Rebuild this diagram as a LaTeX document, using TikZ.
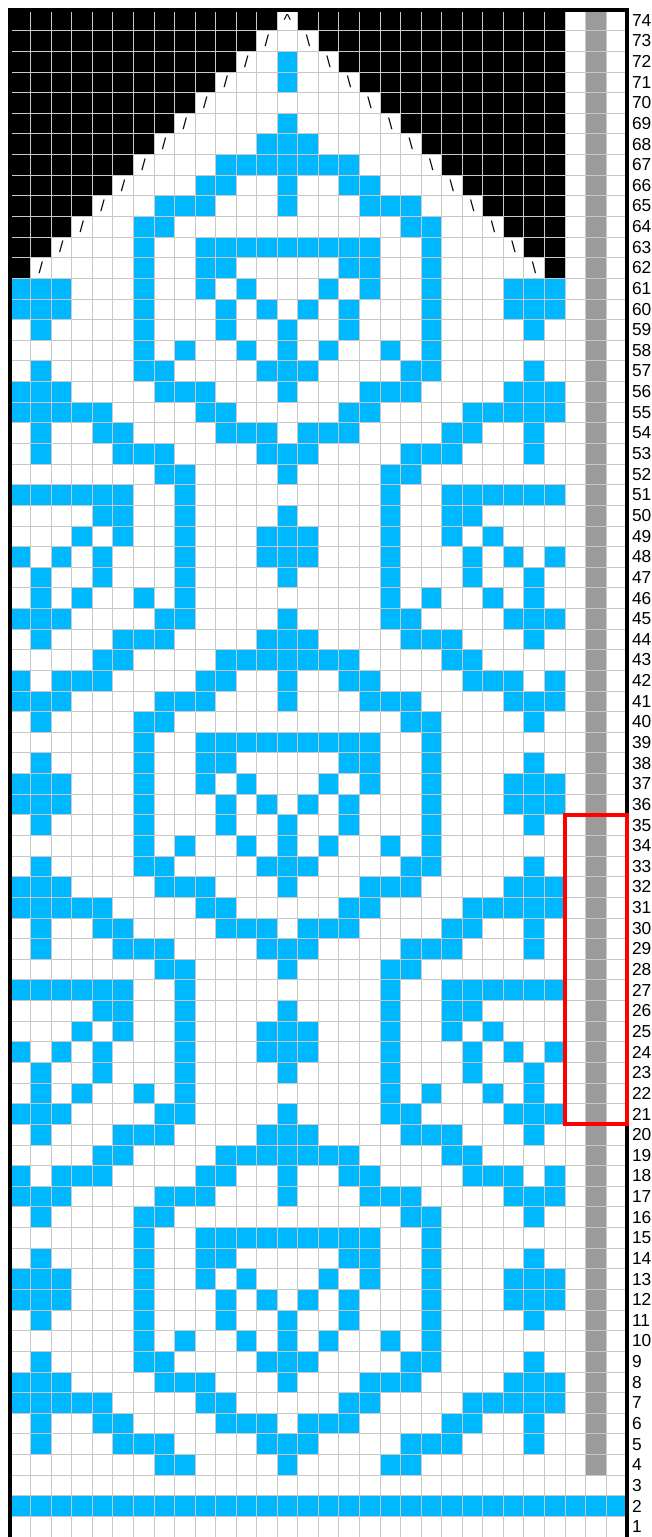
\documentclass[tikz,border=0pt]{standalone}
\usepackage{fontspec}
\setmainfont{Liberation Sans}
\definecolor{stitchblue}{RGB}{0,184,255}
\definecolor{gridgray}{RGB}{200,200,200}
\definecolor{markgray}{RGB}{155,155,155}
\usepackage{xcolor}
\usepackage{tikz}
\usetikzlibrary{positioning}

\begin{document}
\begin{tikzpicture}[x=0.5cm,y=0.502cm]
\useasboundingbox (-0.487,0) rectangle (31.19,74.485);
\fill[white] (0,0) rectangle (30,74);
\foreach \k/\cols in {0/{8,9,14},1/{2,6,7,8,13,14},2/{2,5,6,11,12,13},3/{1,2,3,4,5,10,11},
  4/{1,2,3,8,9,10,14},5/{2,7,8,13,14},6/{7,9,12,14},7/{2,7,11,14},8/{1,2,3,7,11,13},
  9/{1,2,3,7,10,12},10/{2,7,10,11},11/{7,10,11,12,13,14},12/{2,7,8},13/{1,2,3,8,9,10,14},
  14/{1,3,4,5,10,11,14},15/{5,6,11,12,13,14},16/{2,6,7,8,13,14},17/{1,2,3,8,9,14},
  18/{2,4,7,9},19/{2,5,9,14},20/{1,3,5,9,13,14},21/{4,6,9,13,14},22/{5,6,9,14},
  23/{1,2,3,4,5,6,9}} {
  \foreach \rep in {0,1,2} {
    \pgfmathtruncatemacro{\r}{4+\k+24*\rep}
    \ifnum\r<62
      \foreach \c in \cols {
        \fill[stitchblue] (\c-1,\r-1) rectangle (\c,\r);
        \fill[stitchblue] (27-\c,\r-1) rectangle (28-\c,\r);
      }
    \fi
  }
}
\foreach \r/\cols in {62/{7,10,11},63/{7,10,11,12,13,14},64/{7,8},65/{8,9,10,14},
  66/{10,11,14},67/{11,12,13,14},68/{13,14},69/{14},71/{14},72/{14}} {
  \foreach \c in \cols {
    \fill[stitchblue] (\c-1,\r-1) rectangle (\c,\r);
    \fill[stitchblue] (27-\c,\r-1) rectangle (28-\c,\r);
  }
}
\foreach \r in {62,...,74} {
  \fill[black] (0,\r-1) rectangle (\r-61,\r);
  \fill[black] (88-\r,\r-1) rectangle (27,\r);
}
\fill[markgray] (28,3) rectangle (29,74);
\fill[stitchblue] (0,1) rectangle (30,2);
\draw[gridgray, line width=0.5pt, xstep=0.5cm, ystep=0.502cm] (0,0) grid (30,74);
\foreach \r in {62,...,73} {
  \node[inner sep=0, font=\fontsize{11}{11}\selectfont] (lslash\r) at (\r-60.5,\r-0.5) {/};
  \node[inner sep=0, font=\fontsize{11}{11}\selectfont] (rslash\r) at (87.5-\r,\r-0.5) {\textbackslash};
}
\node[inner sep=0, font=\fontsize{11}{11}\selectfont] (apex) at (13.5,73.5) {\textasciicircum};
\draw[line width=2.8pt] (0,0) -- (0,74) -- (30,74) -- (30,35);
\draw[line width=2.8pt] (30,20) -- (30,0);
\draw[red, line width=2.8pt] (27,20) rectangle (30,35);
\foreach \r in {1,...,74}
  \node[anchor=west, inner sep=0, font=\fontsize{12}{12}\selectfont] (num\r) at (30.25,\r-0.5) {\r};
\end{tikzpicture}
\end{document}
